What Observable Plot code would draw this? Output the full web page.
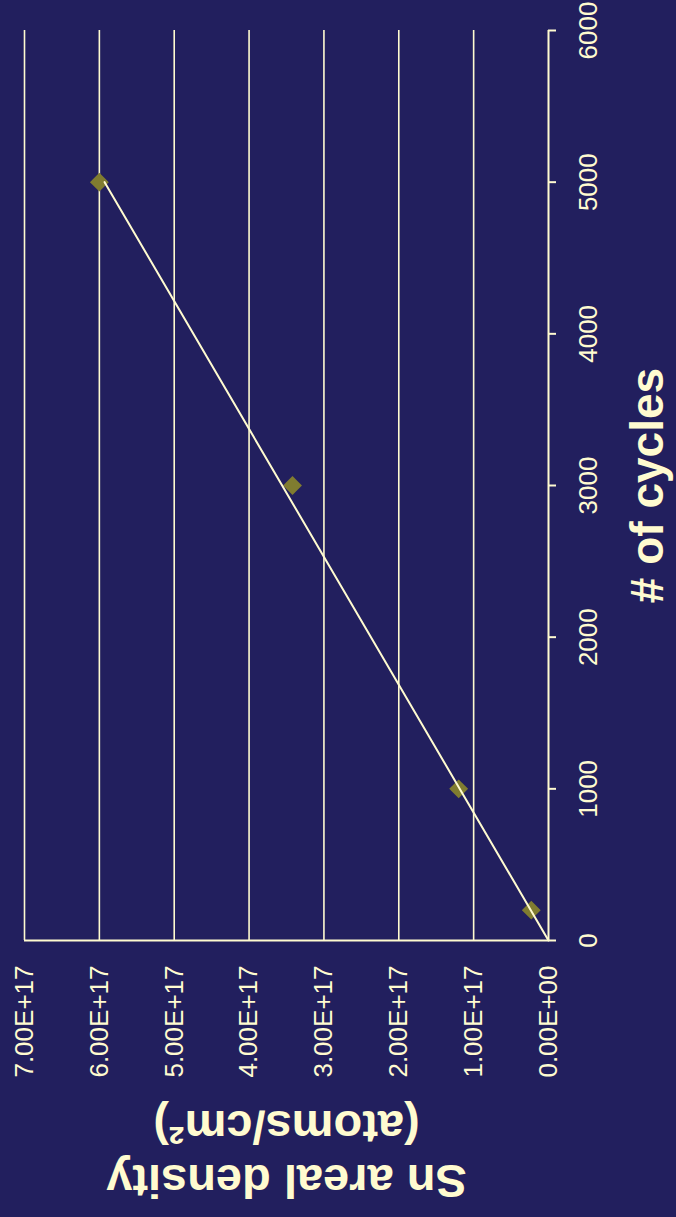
<!DOCTYPE html>
<html><head><meta charset="utf-8">
<script src="https://cdn.jsdelivr.net/npm/d3@7"></script>
<script src="https://cdn.jsdelivr.net/npm/@observablehq/plot@0.6"></script>
<style>
html,body{margin:0;padding:0;background:#221f5e;}
#chart svg{display:block}
</style></head><body><div id="chart"></div>
<script>
// Data
const cycles = [200, 1000, 3000, 5000];
const density = [2.3e16, 1.2e17, 3.42e17, 6.0e17];
const trendCycles = [0, 5000];
const trendDensity = [0, 5.93e17];
const cycleTicks = [0, 1000, 2000, 3000, 4000, 5000, 6000];
const densityTicks = [0, 1e17, 2e17, 3e17, 4e17, 5e17, 6e17, 7e17];
const densityTickLabels = ["0.00E+00", "1.00E+17", "2.00E+17", "3.00E+17", "4.00E+17", "5.00E+17", "6.00E+17", "7.00E+17"];
const xTitle = "# of cycles";
const yTitleLines = ["Sn areal density", "(atoms/cm²)"];

const points = cycles.map((c, i) => ({cycles: c, density: density[i]}));
const trend = trendCycles.map((c, i) => ({cycles: c, density: trendDensity[i]}));

const ink = "#fffbd0";
const bg = "#221f5e";
const font = "'Liberation Sans', Arial, Helvetica, sans-serif";

const chart = Plot.plot({
  width: 676, height: 1217,
  marginTop: 30, marginBottom: 277, marginLeft: 24, marginRight: 128,
  style: {background: bg, color: ink, fontFamily: font},
  x: {domain: [0, 7e17], reverse: true, axis: null},
  y: {domain: [0, 6000], axis: null},
  marks: [
    Plot.ruleX(densityTicks.slice(1), {x: d => d, y1: 0, y2: 6000, stroke: ink, strokeWidth: 1.6}),
    Plot.ruleY([0], {y: d => d, x1: 7e17, x2: 0, stroke: ink, strokeWidth: 2}),
    Plot.ruleX([0], {x: d => d, y1: 0, y2: 6000, stroke: ink, strokeWidth: 2}),
    Plot.ruleY(cycleTicks, {y: d => d, x1: 0, x2: 0, insetRight: -8, stroke: ink, strokeWidth: 2}),
    Plot.text(cycleTicks, {x: () => 0, y: d => d, text: d => String(d), rotate: -90, dx: 40,
      textAnchor: "middle", fontSize: 26, fill: ink, fontFamily: font}),
    Plot.text(densityTicks, {x: d => d, y: () => 0, text: (d, i) => densityTickLabels[i], rotate: -90, dy: 25,
      textAnchor: "end", fontSize: 26, fill: ink, fontFamily: font}),
    Plot.text([xTitle], {x: () => 0, y: () => 3000, text: d => d, rotate: -90, dx: 114,
      lineAnchor: "bottom", textAnchor: "middle", fontSize: 46, fontWeight: "bold", fill: ink, fontFamily: font}),
    Plot.text([yTitleLines[0]], {x: () => 3.5e17, y: () => 0, text: d => d, rotate: 180, dy: 224,
      lineAnchor: "bottom", textAnchor: "middle", fontSize: 47, fontWeight: "bold", fill: ink, fontFamily: font}),
    Plot.text([yTitleLines[1]], {x: () => 3.5e17, y: () => 0, text: d => d, rotate: 180, dy: 170,
      lineAnchor: "bottom", textAnchor: "middle", fontSize: 47, fontWeight: "bold", fill: ink, fontFamily: font}),
    Plot.dot(points, {x: "density", y: "cycles", symbol: "diamond2", r: 8.5, fill: "#807c30", stroke: "none"}),
    Plot.line(trend, {x: "density", y: "cycles", stroke: ink, strokeWidth: 2})
  ]
});
document.getElementById("chart").appendChild(chart);
</script>
</body></html>
